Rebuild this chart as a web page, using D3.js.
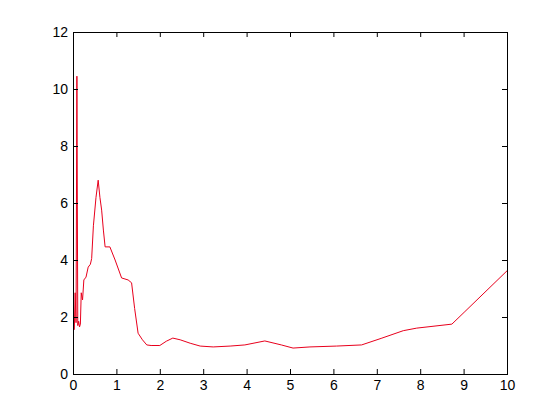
<!DOCTYPE html>
<html><head><meta charset="utf-8">
<script src="https://cdn.jsdelivr.net/npm/d3@7"></script>
<style>body{margin:0;background:#fff}svg{display:block}</style>
</head><body>
<svg id="c" width="560" height="420"></svg>
<script>
const xValues = [0.03,0.05,0.07,0.09,0.10,0.11,0.13,0.15,0.17,0.19,0.22,0.25,0.30,0.35,0.40,0.43,0.47,0.53,0.58,0.62,0.66,0.70,0.74,0.85,0.97,1.12,1.27,1.35,1.42,1.50,1.60,1.70,1.80,2.00,2.15,2.30,2.47,2.70,2.93,3.23,3.62,3.96,4.42,4.80,5.07,5.46,6.07,6.65,7.10,7.61,7.92,8.73,9.03,10.0];
const yValues = [1.55,2.85,1.80,10.45,6.0,1.70,1.85,1.65,1.75,2.85,2.60,3.30,3.40,3.75,3.85,4.05,5.20,6.20,6.80,6.20,5.75,5.05,4.46,4.46,4.00,3.37,3.30,3.20,2.30,1.43,1.20,1.02,1.00,1.00,1.15,1.26,1.20,1.08,0.98,0.95,0.98,1.02,1.16,1.02,0.91,0.95,0.98,1.02,1.25,1.52,1.61,1.75,2.19,3.62];
const xTicks = [0,1,2,3,4,5,6,7,8,9,10];
const yTicks = [0,2,4,6,8,10,12];

const svg = d3.select("#c");
const L = 73, R = 507, T = 32, B = 374;
const x = d3.scaleLinear().domain([0,10]).range([L,R]);
const y = d3.scaleLinear().domain([0,12]).range([B,T]);
const font = "Liberation Sans, Arial, Helvetica, sans-serif";

const line = d3.line().x((d,i)=>x(xValues[i])).y((d,i)=>y(yValues[i]));
svg.append("path").datum(yValues).attr("d", line)
  .attr("fill","none").attr("stroke","#e8001c").attr("stroke-width",1);

function styleAxis(g){
  g.select(".domain").remove();
  g.selectAll("line").attr("stroke","#000");
  g.selectAll("text").attr("font-family",font).attr("font-size","14px").attr("fill","#000");
}
svg.append("g").attr("transform",`translate(0,${B})`)
  .call(d3.axisBottom(x).tickValues(xTicks).tickSize(-5).tickPadding(6).tickFormat(d3.format("d")))
  .call(styleAxis);
svg.append("g").attr("transform",`translate(0,${T})`)
  .call(d3.axisTop(x).tickValues(xTicks).tickSize(-5).tickFormat(""))
  .call(styleAxis);
svg.append("g").attr("transform",`translate(${L},0)`)
  .call(d3.axisLeft(y).tickValues(yTicks).tickSize(-5).tickPadding(5).tickFormat(d3.format("d")))
  .call(styleAxis);
svg.append("g").attr("transform",`translate(${R},0)`)
  .call(d3.axisRight(y).tickValues(yTicks).tickSize(-5).tickFormat(""))
  .call(styleAxis);

svg.append("rect").attr("x",L+0.5).attr("y",T+0.5).attr("width",R-L).attr("height",B-T)
  .attr("fill","none").attr("stroke","#000").attr("stroke-width",1);
</script>
</body></html>
